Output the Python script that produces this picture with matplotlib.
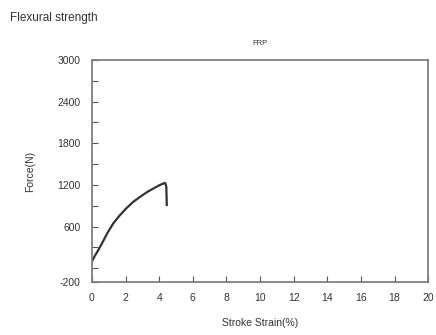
import matplotlib
matplotlib.use("Agg")
import matplotlib.pyplot as plt

plt.rcParams['font.family'] = ['Liberation Sans', 'DejaVu Sans']
plt.rcParams['axes.unicode_minus'] = False

strain = [0.0, 0.15, 0.35, 0.6, 0.9, 1.27, 1.65, 2.05, 2.46, 2.9, 3.3, 3.7, 4.05, 4.35, 4.42, 4.45]
force = [100, 170, 250, 360, 500, 647, 760, 865, 957, 1035, 1100, 1155, 1200, 1230, 1180, 910]

title_text = "Flexural strength"
subtitle = "FRP"
xticks = [0, 2, 4, 6, 8, 10, 12, 14, 16, 18, 20]
yticks = [-200, 600, 1200, 1800, 2400, 3000]
yminor = [0, 300, 900, 1500, 2100, 2700]

fig = plt.figure(figsize=(4.36, 3.35), dpi=100)
ax = fig.add_axes([0.211, 0.158, 0.771, 0.663])
ax.plot(strain, force, color='#333333', lw=1.6)
ax.set_xlim(0, 20)
ax.set_ylim(-200, 3000)
ax.set_xticks(xticks)
ax.set_yticks(yticks)
ax.set_yticks(yminor, minor=True)
ax.tick_params(axis='both', which='both', direction='in', labelsize=7.5, colors='#555555', labelcolor='#333333')
ax.tick_params(axis='both', which='major', length=4, width=0.8)
ax.tick_params(axis='y', which='minor', length=4, width=0.8)
ax.tick_params(axis='x', which='major', pad=8)
ax.tick_params(axis='y', which='major', pad=8)
for s in ax.spines.values():
    s.set_color('#777777')
    s.set_linewidth(1.2)
ax.set_xlabel("Stroke Strain(%)", fontsize=7.5, color='#333333', labelpad=11)
ax.set_ylabel("Force(N)", fontsize=7.5, color='#333333', labelpad=16)
ax.set_title(subtitle, fontsize=5.5, color='#333333', pad=11)
fig.text(0.023, 0.945, title_text, fontsize=8.5, color='#333333', ha='left', va='center')
fig.savefig("out.png", dpi=100)
